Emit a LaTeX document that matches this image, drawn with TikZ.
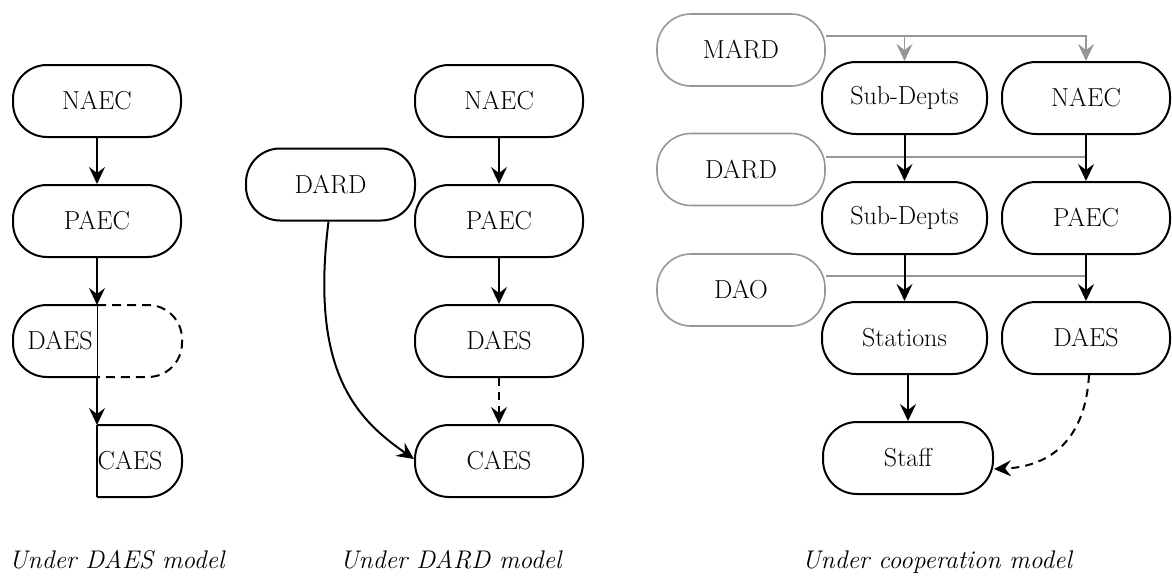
\documentclass[tikz,border=0pt]{standalone}
\usepackage{fontspec}
\usetikzlibrary{arrows.meta}
\definecolor{lgray}{RGB}{150,150,150}
\begin{document}
\begin{tikzpicture}[x=1pt,y=-1pt,
 box/.style={draw, line width=2pt, rounded corners=34pt, minimum width=168pt, minimum height=72pt, inner sep=0pt, font=\fontsize{26}{30}\selectfont},
 gbox/.style={box, draw=lgray, line width=1.6pt},
 lbl/.style={inner sep=0pt, font=\fontsize{26}{30}\selectfont},
 eline/.style={line width=2pt},
 arr/.style={line width=2pt, -{Stealth[length=17pt,width=16pt,inset=6pt]}},
 darr/.style={arr, dash pattern=on 8pt off 6pt},
 garr/.style={line width=1.6pt, draw=lgray, -{Stealth[length=17pt,width=16pt,inset=6pt]}},
 gline/.style={line width=1.6pt, draw=lgray},
 captext/.style={anchor=base west, inner sep=0pt, font=\fontsize{25.5}{30}\selectfont\itshape}]
\useasboundingbox (0,0) rectangle (1172,576);

% ---- Under DAES model
\node[box] (lNAEC) at (97,101) {NAEC};
\node[box] (lPAEC) at (97,221) {PAEC};
\coordinate (lDt) at (97,305);
\coordinate (lDb) at (97,377);
\draw[eline, rounded corners=34pt] (lDt) -- (13,305) -- (13,377) -- (lDb);
\draw[eline, dash pattern=on 9pt off 6pt, rounded corners=34pt] (lDt) -- (182,305) -- (182,377) -- (lDb);
\draw[line width=1pt] (lDt) -- (lDb);
\node[lbl] (lDAES) at (60,341) {DAES};
\coordinate (lCt) at (97,425);
\coordinate (lCb) at (97,497);
\draw[eline] (lCt) -- (lCb);
\draw[eline, rounded corners=34pt] (lCt) -- (182,425) -- (182,497) -- (lCb);
\node[lbl] (lCAES) at (130,461) {CAES};
\draw[arr] (lNAEC) -- (lPAEC);
\draw[arr] (lPAEC) -- (lDt);
\draw[arr] (lDb) -- (lCt);

% ---- Under DARD model
\node[box] (mNAEC) at (499,101) {NAEC};
\node[box] (mPAEC) at (499,221) {PAEC};
\node[box] (mDAES) at (499,341) {DAES};
\node[box] (mCAES) at (499,461) {CAES};
\node[box, minimum width=169pt] (mDARD) at (330.5,184.5) {DARD};
\draw[arr] (mNAEC) -- (mPAEC);
\draw[arr] (mPAEC) -- (mDAES);
\draw[darr] (mDAES) -- (mCAES);
\draw[arr] ([xshift=-2pt]mDARD.south) .. controls (310,370) and (355,418) .. ([yshift=2pt]mCAES.west);

% ---- Under cooperation model
\node[gbox] (MARD) at (741,50) {MARD};
\node[gbox] (gDARD) at (741,169.5) {DARD};
\node[gbox] (DAO) at (741,290) {DAO};
\node[box, minimum width=165pt] (sub1) at (904.5,98) {Sub-Depts};
\node[box] (rNAEC) at (1086,98) {NAEC};
\node[box, minimum width=165pt] (sub2) at (904.5,218) {Sub-Depts};
\node[box] (rPAEC) at (1086,218) {PAEC};
\node[box, minimum width=165pt] (stat) at (904.5,338) {Stations};
\node[box] (rDAES) at (1086,338) {DAES};
\node[box, minimum width=170pt] (staff) at (908,458) {Staff};

\coordinate (m1) at ([yshift=14pt]MARD.east);
\coordinate (d1) at ([yshift=12.5pt]gDARD.east);
\coordinate (o1) at ([yshift=14pt]DAO.east);
\draw[garr] (m1) -| (rNAEC);
\draw[garr] (m1 -| sub1) -- (sub1);
\draw[gline] (d1) -- (d1 -| rNAEC);
\draw[gline] (o1) -- (o1 -| rNAEC);

\draw[arr] (sub1) -- (sub2);
\draw[arr] (rNAEC) -- (rPAEC);
\draw[arr] (sub2) -- (stat);
\draw[arr] (rPAEC) -- (rDAES);
\draw[arr] (stat.south -| staff) -- (staff);
\draw[darr] ([xshift=3pt]rDAES.south) .. controls (1085,445) and (1045,467) .. ([yshift=-11pt]staff.east);

% ---- captions
\node[captext] (c1) at (9,568) {Under DAES model};
\node[captext] (c2) at (340,568) {Under DARD model};
\node[captext] (c3) at (802,568) {Under cooperation model};
\end{tikzpicture}
\end{document}
